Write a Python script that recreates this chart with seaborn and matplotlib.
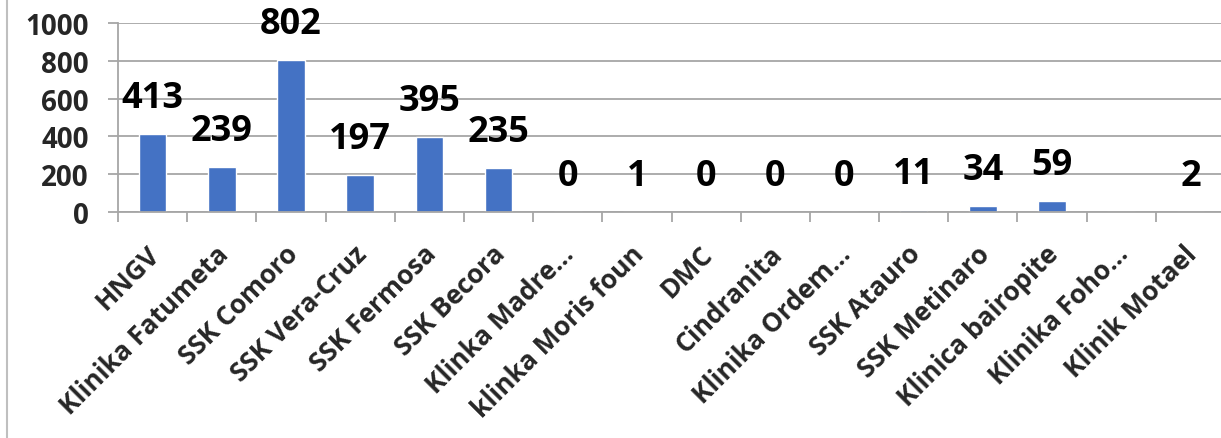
import matplotlib
matplotlib.use("Agg")
import matplotlib.pyplot as plt
import matplotlib.transforms as mtransforms
import seaborn as sns
import pandas as pd

# clinics and counts
clinics = ["HNGV", "Klinika Fatumeta", "SSK Comoro", "SSK Vera-Cruz", "SSK Fermosa",
           "SSK Becora", "Klinka Madre…", "klinka Moris foun", "DMC", "Cindranita",
           "Klinika Ordem…", "SSK Atauro", "SSK Metinaro", "Klinica bairopite",
           "Klinika Foho…", "Klinik Motael"]
counts = [413, 239, 802, 197, 395, 235, 0, 1, 0, 0, 0, 11, 34, 59, 0, 2]
value_labels = ["413", "239", "802", "197", "395", "235", "0", "1", "0", "0", "0",
                "11", "34", "59", "", "2"]

df = pd.DataFrame({"Clinic": clinics, "Count": counts})

sns.set_style("white")
plt.rcParams["font.family"] = ["Open Sans", "DejaVu Sans"]
plt.rcParams["font.weight"] = "bold"

fig = plt.figure(figsize=(12.21, 4.39), dpi=100)
ax = fig.add_axes([118 / 1221, 1 - 213 / 439, 1107 / 1221, 189 / 439])

sns.barplot(data=df, x="Clinic", y="Count", color="#4472C4", width=0.4,
            saturation=1, ax=ax)
ax.bar_label(ax.containers[0], labels=value_labels, padding=13,
             fontsize=26, fontweight="bold", color="black")

grid_c = "#A6A6A6"
ax.set_ylim(0, 1000)
ax.set_yticks([0, 200, 400, 600, 800, 1000])
ax.set_xlim(-0.5, len(clinics) - 0.5)
ax.yaxis.grid(True, color=grid_c, linewidth=1.3)
ax.set_axisbelow(True)
for s in ["top", "right"]:
    ax.spines[s].set_visible(False)
ax.spines["left"].set_color(grid_c)
ax.spines["bottom"].set_color(grid_c)
ax.spines["left"].set_linewidth(1.3)
ax.spines["bottom"].set_linewidth(1.3)

# y ticks look like gridlines poking out to the left
ax.tick_params(axis="y", length=7, width=1.3, color=grid_c, pad=14,
               labelsize=20, direction="out", left=True)
for t in ax.get_yticklabels():
    t.set_fontweight("bold")

# x ticks sit on the category boundaries
ax.set_xticks(range(len(clinics)))
ax.set_xticklabels(clinics, rotation=45, ha="right", rotation_mode="anchor",
                   fontsize=19, fontweight="bold")
ax.tick_params(axis="x", length=0, pad=20)
shift = mtransforms.ScaledTranslation(-0.07, 0, fig.dpi_scale_trans)
for t in ax.get_xticklabels():
    t.set_transform(t.get_transform() + shift)
ax.set_xticks([i - 0.5 for i in range(len(clinics) + 1)], minor=True)
ax.tick_params(axis="x", which="minor", length=7, width=1.3, color=grid_c,
               bottom=True)
ax.set_xlabel("")
ax.set_ylabel("")

# chart area border on the left
fig.add_artist(plt.Line2D([7 / 1221, 7 / 1221], [0, 1], color="#BFBFBF",
                          linewidth=1.5, transform=fig.transFigure))

fig.savefig("out.png", dpi=100)
